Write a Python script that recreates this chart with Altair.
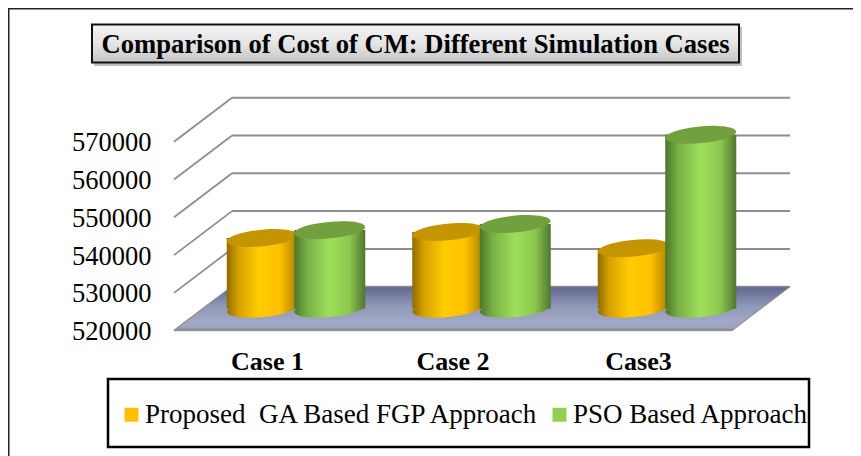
import math
import altair as alt
import pandas as pd

cases = ["Case 1", "Case 2", "Case3"]
series = ["Proposed\u00a0\u00a0GA Based FGP Approach", "PSO Based Approach"]
ga_values = [538700, 540300, 536000]
pso_values = [540800, 542400, 566000]
tick_values = [520000, 530000, 540000, 550000, 560000, 570000]
title_text = "Comparison of Cost of CM: Different Simulation Cases"

W, H = 845, 448
FONT = "Liberation Serif"

# 3-D layout of the chart, in axis units
UNIT = 185.5            # px per category
V_PER_PX = 10000 / 37.8
DEPTH_X = 58 / UNIT
DEPTH_V = 44 * V_PER_PX
LEFT = (174 - 267) / UNIT
RIGHT = (732 - 267) / UNIT
BASE = 520000
BAR_W = 71 / UNIT
PAIR = 33.75 / UNIT

xs = alt.Scale(domain=[(8 - 267) / UNIT, (853 - 267) / UNIT], nice=False, zero=False)
ys = alt.Scale(domain=[BASE - (456 - 330.7) * V_PER_PX, BASE + (330.7 - 8) * V_PER_PX], nice=False, zero=False)

X_AXIS = alt.Axis(values=[0, 1, 2], labelExpr="['Case 1','Case 2','Case3'][datum.value]", offset=-108,
                  domain=False, ticks=False, grid=False, labelPadding=0, labelFont=FONT, labelFontSize=26,
                  labelFontWeight="bold", labelColor="#000000", labelBaseline="top", title=None, zindex=1)
Y_AXIS = alt.Axis(values=tick_values, format="d", offset=-143, domain=False, ticks=False, grid=False,
                  labelPadding=0, labelFont=FONT, labelFontSize=26.5, labelColor="#000000", title=None, zindex=1,
                  labelOffset=1)
X = lambda f, **k: alt.X(f, type="quantitative", scale=xs, axis=X_AXIS, **k)
Y = lambda f, **k: alt.Y(f, type="quantitative", scale=ys, axis=Y_AXIS, **k)

th = math.radians(5.5)
c, s = math.cos(th), math.sin(th)
ELLIPSE = f"M {-c:.4f} {s:.4f} A 1 0.234 -5.5 1 1 {c:.4f} {-s:.4f} A 1 0.234 -5.5 1 1 {-c:.4f} {s:.4f} Z"


def grad(stops):
    return alt.Gradient(gradient="linear", x1=0, x2=1, y1=0, y2=0,
                        stops=[alt.GradientStop(color=col, offset=o) for o, col in stops])


ORANGE = grad([(0, "#8f6c00"), (0.16, "#d6a000"), (0.45, "#ffcc00"), (0.75, "#ffc000"), (1, "#a98000")])
GREEN = grad([(0, "#4d7529"), (0.18, "#78b046"), (0.5, "#9de05a"), (0.78, "#8cc64e"), (1, "#507630")])

frame = alt.Chart(pd.DataFrame({"a": [0]})).mark_rect(fill="white", fillOpacity=0, stroke="#222222", strokeWidth=2).encode(
    x=alt.value(0.5), x2=alt.value(900), y=alt.value(0.5), y2=alt.value(480))

grid_df = pd.DataFrame({"v": tick_values})
grid_df["v2"] = grid_df.v + DEPTH_V
grid_df["x0"] = LEFT
grid_df["x1"] = LEFT + DEPTH_X
grid_df["x2"] = RIGHT + DEPTH_X

oblique = alt.Chart(grid_df).mark_rule(color="#8e8e8e", strokeWidth=1.8).encode(
    x=X("x0"), x2="x1", y=Y("v"), y2="v2")
back = alt.Chart(grid_df).mark_rule(color="#8e8e8e", strokeWidth=2).encode(
    x=X("x1"), x2="x2", y=Y("v2"), y2="v2")

floor_df = pd.DataFrame({"y": [BASE + DEPTH_V, BASE],
                         "a": [LEFT + DEPTH_X, LEFT],
                         "b": [RIGHT + DEPTH_X, RIGHT]})
floor_fill = alt.Gradient(gradient="linear", x1=0, x2=0, y1=0, y2=1, stops=[
    alt.GradientStop(color="#62668f", offset=0),
    alt.GradientStop(color="#9099b8", offset=0.45),
    alt.GradientStop(color="#a0a8c4", offset=0.8),
    alt.GradientStop(color="#9ea6c0", offset=0.92),
    alt.GradientStop(color="#7f8484", offset=1),
])
floor = alt.Chart(floor_df).mark_area(orient="horizontal", fill=floor_fill, stroke="#8e8e8e", strokeWidth=1).encode(
    y=Y("y"), x=X("a"), x2="b")

rows = []
for i, cs in enumerate(cases):
    rows.append({"series": series[0], "case": cs, "xc": i + DEPTH_X / 2 - PAIR, "val": ga_values[i]})
    rows.append({"series": series[1], "case": cs, "xc": i + DEPTH_X / 2 + PAIR, "val": pso_values[i]})
df = pd.DataFrame(rows)
df["l"] = df.xc - BAR_W / 2
df["r"] = df.xc + BAR_W / 2
df["base"] = BASE + DEPTH_V / 2
df["top"] = df.val + DEPTH_V / 2

legend_pts = alt.Chart(df).mark_square(size=1, opacity=1).encode(
    x=X("xc"), y=Y("base"),
    color=alt.Color("series:N", scale=alt.Scale(domain=series, range=["#ffc000", "#92d050"]),
                    legend=alt.Legend(title=None, orient="none", legendX=105, legendY=393, columns=2,
                                      direction="horizontal", symbolType="square", symbolSize=196,
                                      symbolStrokeWidth=0, symbolOffset=5, labelFont=FONT, labelFontSize=27,
                                      labelColor="#000000", labelLimit=500, labelOffset=0,
                                      columnPadding=0, padding=0)),
)


def cylinders(name, body, top_col):
    d = df[df.series == name]
    base = alt.Chart(d).mark_point(shape=ELLIPSE, size=71 ** 2, filled=True, fill=body, opacity=1, strokeWidth=0).encode(
        x=X("xc"), y=Y("base"))
    rect = alt.Chart(d).mark_rect(fill=body).encode(x=X("l"), x2="r", y=Y("base"), y2="top")
    top = alt.Chart(d).mark_point(shape=ELLIPSE, size=71 ** 2, filled=True, fill=top_col, opacity=1, strokeWidth=0).encode(
        x=X("xc"), y=Y("top"))
    return [base, rect, top]


one = pd.DataFrame({"a": [0]})
title_fill = alt.Gradient(gradient="linear", x1=0, x2=0, y1=0, y2=1, stops=[
    alt.GradientStop(color="#f4f4f4", offset=0),
    alt.GradientStop(color="#e4e4e4", offset=0.5),
    alt.GradientStop(color="#c6c6c6", offset=1),
])
shadow = alt.Chart(one).mark_rect(fill="#8a8a8a", opacity=0.55).encode(
    x=alt.value(86), x2=alt.value(734), y=alt.value(19), y2=alt.value(58))
title_box = alt.Chart(one).mark_rect(fill=title_fill, stroke="#111111", strokeWidth=2).encode(
    x=alt.value(84), x2=alt.value(731), y=alt.value(16.5), y2=alt.value(54.5))
legend_box = alt.Chart(one).mark_rect(fill="white", stroke="#000000", strokeWidth=2.5).encode(
    x=alt.value(100), x2=alt.value(801), y=alt.value(371), y2=alt.value(439))

layers = [frame, oblique, back, floor, legend_pts]
layers += cylinders(series[0], ORANGE, "#c49500")
layers += cylinders(series[1], GREEN, "#72a03f")
layers += [shadow, title_box, legend_box]

chart = alt.layer(*layers).properties(
    width=W, height=H, padding=0, autosize=alt.AutoSizeParams(type="none"),
    title=alt.TitleParams(title_text, font=FONT, fontSize=26.6, fontWeight="bold", color="#000000",
                          anchor="start", offset=-51, dx=94, zindex=1),
).configure_view(stroke=None).configure_legend(zindex=1)

chart.save("out.html", embed_options={"renderer": "svg", "actions": False})
